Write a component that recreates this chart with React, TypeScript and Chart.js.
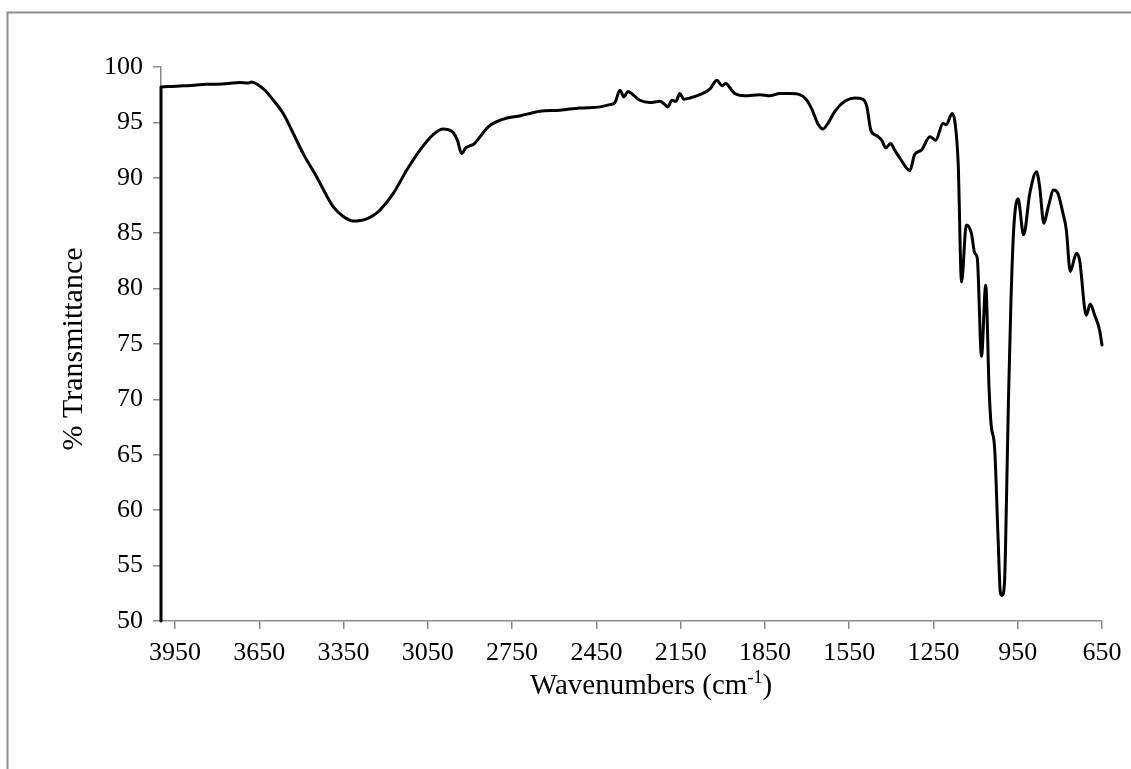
import React, { useEffect, useRef } from "react";
import { Chart, registerables } from "chart.js";

Chart.register(...registerables);

const wavenumbers = [
  4000, 4000, 3960, 3920, 3880, 3840, 3800, 3760, 3720, 3690, 3677, 3655, 3630, 3600, 3565, 3529, 3490, 3446,
  3415, 3387, 3351, 3316, 3290, 3268, 3245, 3220, 3173, 3125, 3078, 3031, 2995, 2965, 2945, 2930, 2915, 2900,
  2888, 2864, 2835, 2781, 2720, 2651, 2580, 2509, 2437, 2402, 2384, 2366, 2352, 2338, 2320, 2295, 2260, 2224,
  2206, 2196, 2181, 2167, 2153, 2139, 2117, 2082, 2046, 2021, 2003, 1989, 1971, 1957, 1922, 1868, 1833, 1797,
  1761, 1726, 1704, 1683, 1662, 1644, 1626, 1601, 1566, 1530, 1502, 1487, 1473, 1452, 1434, 1420, 1402, 1388,
  1370, 1334, 1317, 1293, 1263, 1242, 1216, 1204, 1184, 1174, 1162, 1150, 1133, 1115, 1103, 1094, 1079, 1064,
  1052, 1045, 1032, 1020, 1012, 1006, 997, 990, 983, 974, 964, 949, 929, 907, 883, 872, 857, 842, 822, 807, 789,
  777, 763, 741, 730, 706, 692, 676, 659, 650,
];

const transmittance = [
  50, 98.2, 98.25, 98.3, 98.35, 98.45, 98.45, 98.5, 98.6, 98.55, 98.65, 98.4, 97.9, 97.0, 95.8, 94.0, 92.0, 90.1,
  88.6, 87.4, 86.5, 86.1, 86.15, 86.3, 86.6, 87.1, 88.6, 90.7, 92.5, 93.9, 94.4, 94.2, 93.4, 92.2, 92.7, 92.9,
  93.0, 93.7, 94.6, 95.3, 95.6, 96.0, 96.1, 96.3, 96.4, 96.6, 96.8, 97.9, 97.3, 97.8, 97.5, 97.0, 96.8, 96.9,
  96.6, 96.4, 97.0, 96.9, 97.6, 97.1, 97.2, 97.5, 98.0, 98.8, 98.3, 98.5, 98.0, 97.6, 97.4, 97.5, 97.4, 97.6,
  97.6, 97.5, 97.1, 96.2, 94.9, 94.4, 94.9, 96.0, 96.9, 97.2, 97.1, 96.4, 94.3, 93.8, 93.4, 92.7, 93.1, 92.5,
  91.8, 90.65, 92.1, 92.5, 93.7, 93.4, 94.9, 94.8, 95.8, 95.1, 91.3, 80.6, 85.75, 85.0, 83.2, 82.75, 73.9, 80.3,
  71.0, 67.8, 65.5, 57.5, 52.6, 52.3, 53.5, 61.0, 70.0, 79.0, 85.5, 88.1, 84.85, 88.6, 90.55, 89.2, 85.9, 87.3,
  88.9, 88.6, 86.8, 85.3, 81.55, 83.2, 82.6, 77.6, 78.6, 77.6, 76.3, 74.9,
];

const xTickValues = [3950, 3650, 3350, 3050, 2750, 2450, 2150, 1850, 1550, 1250, 950, 650];
const xRange = [650, 4000];
const yRange = [50, 100];
const yStep = 5;

const xTitle = "Wavenumbers (cm";
const xTitleSup = "-1";
const xTitleEnd = ")";
const yTitle = "% Transmittance";

const FONT = '"Liberation Serif", "Times New Roman", serif';
const AXIS_GREY = "#8a8a8a";

export default function App() {
  const ref = useRef<HTMLCanvasElement | null>(null);

  useEffect(() => {
    const canvas = ref.current;
    if (!canvas) return;

    const decor = {
      id: "decor",
      beforeDraw(chart: any) {
        const ctx = chart.ctx;
        ctx.save();
        ctx.fillStyle = "#ffffff";
        ctx.fillRect(0, 0, chart.width, chart.height);
        ctx.strokeStyle = "#8c8c8c";
        ctx.lineWidth = 2;
        ctx.beginPath();
        ctx.moveTo(7.5, chart.height);
        ctx.lineTo(7.5, 12.5);
        ctx.lineTo(chart.width, 12.5);
        ctx.stroke();
        ctx.restore();
      },
      afterDraw(chart: any) {
        const ctx = chart.ctx;
        ctx.save();
        ctx.fillStyle = "#000";
        ctx.font = `30px ${FONT}`;
        ctx.translate(74, 349);
        ctx.rotate(-Math.PI / 2);
        ctx.textAlign = "center";
        ctx.textBaseline = "middle";
        ctx.fillText(yTitle, 0, 0);
        ctx.restore();

        ctx.save();
        ctx.fillStyle = "#000";
        ctx.textBaseline = "alphabetic";
        ctx.textAlign = "left";
        ctx.font = `29px ${FONT}`;
        const w1 = ctx.measureText(xTitle).width;
        const w3 = ctx.measureText(xTitleEnd).width;
        ctx.font = `18px ${FONT}`;
        const w2 = ctx.measureText(xTitleSup).width;
        const total = w1 + w2 + w3;
        const cx = 651;
        const base = 694;
        let x = cx - total / 2;
        ctx.font = `29px ${FONT}`;
        ctx.fillText(xTitle, x, base);
        x += w1;
        ctx.font = `18px ${FONT}`;
        ctx.fillText(xTitleSup, x, base - 11);
        x += w2;
        ctx.font = `29px ${FONT}`;
        ctx.fillText(xTitleEnd, x, base);
        ctx.restore();
      },
    };

    const chart = new Chart(canvas, {
      type: "line",
      data: {
        datasets: [
          {
            data: wavenumbers.map((w, i) => ({ x: w, y: transmittance[i] })),
            borderColor: "#000000",
            borderWidth: 3,
            pointRadius: 0,
            cubicInterpolationMode: "monotone",
            borderJoinStyle: "round",
            borderCapStyle: "round",
            fill: false,
            clip: false,
          },
        ],
      },
      options: {
        animation: false,
        responsive: false,
        maintainAspectRatio: false,
        layout: { padding: { top: 67, right: 29, left: 0, bottom: 0 } },
        plugins: { legend: { display: false }, tooltip: { enabled: false }, title: { display: false } },
        scales: {
          x: {
            type: "linear",
            reverse: true,
            min: xRange[0],
            max: xRange[1],
            afterBuildTicks: (s: any) => {
              s.ticks = xTickValues.map((v) => ({ value: v }));
            },
            afterFit: (s: any) => {
              s.height = 148;
            },
            grid: {
              display: true,
              drawOnChartArea: false,
              drawTicks: true,
              tickLength: 8,
              color: AXIS_GREY,
              lineWidth: 1.5,
            },
            border: { display: true, color: AXIS_GREY, width: 1.5 },
            ticks: {
              color: "#000",
              font: { family: FONT, size: 26 },
              padding: 9,
              maxRotation: 0,
              autoSkip: false,
              callback: (v: any) => String(v),
            },
          },
          y: {
            min: yRange[0],
            max: yRange[1],
            afterFit: (s: any) => {
              s.width = 161;
            },
            grid: {
              display: true,
              drawOnChartArea: false,
              drawTicks: true,
              tickLength: 8,
              color: AXIS_GREY,
              lineWidth: 1.5,
            },
            border: { display: true, color: AXIS_GREY, width: 1.5 },
            ticks: {
              stepSize: yStep,
              color: "#000",
              font: { family: FONT, size: 26 },
              padding: 10,
              callback: (v: any) => String(v),
            },
          },
        },
      },
      plugins: [decor],
    } as any);

    return () => chart.destroy();
  }, []);

  return (
    <canvas
      ref={ref}
      width={1131}
      height={769}
      style={{ position: "fixed", left: 0, top: 0, width: 1131, height: 769, display: "block" }}
    />
  );
}
